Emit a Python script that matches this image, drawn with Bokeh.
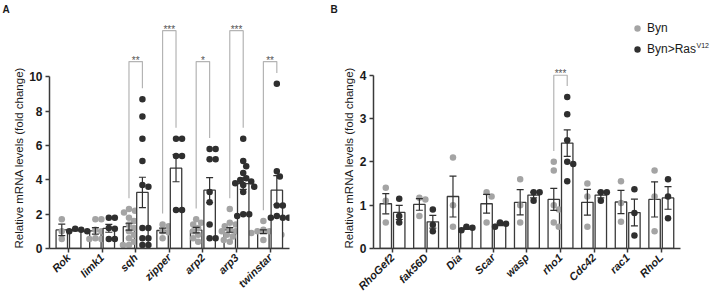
import numpy as np
from bokeh.plotting import figure
from bokeh.layouts import row
from bokeh.models import FixedTicker, Label, Legend, LegendItem, Range1d, Title
from bokeh.core.properties import value
from bokeh.embed import file_html
from bokeh.resources import INLINE

# ---------------- data ----------------
a_categories = ["Rok", "limk1", "sqh", "zipper", "arp2", "arp3", "twinstar"]
a_byn = [
    [1.7, 1.0, 0.55],
    [1.7, 1.7, 1.1, 1.0, 0.6, 0.55, 0.55],
    [2.3, 2.2, 2.1, 2.0, 1.8, 1.6, 1.4, 1.2, 1.0, 0.8, 0.6, 0.4, 0.2, 0.2],
    [1.4, 1.3, 1.0, 0.95, 0.6],
    [1.7, 1.5, 1.4, 1.2, 1.0, 0.8, 0.6, 0.4],
    [2.3, 1.5, 1.4, 1.3, 1.2, 1.1, 1.0, 1.0, 0.9, 0.8, 0.7, 0.5, 0.4],
    [1.6, 1.1, 1.0, 1.0, 0.9, 0.9, 0.8, 0.5],
]
a_ras = [
    [1.15, 1.1, 1.0, 1.0],
    [1.8, 1.8, 1.2, 1.15, 0.55, 0.55],
    [8.7, 7.7, 6.4, 5.1, 3.7, 3.6, 1.2, 1.2, 0.6, 0.6, 0.2, 0.2],
    [6.4, 6.4, 5.4, 5.4, 2.25, 2.25],
    [5.8, 5.8, 5.2, 5.2, 3.3, 2.7, 1.4, 0.6, 0.6],
    [6.4, 5.1, 4.8, 4.4, 4.1, 4.0, 3.9, 3.8, 3.7, 3.6, 3.3, 2.0, 2.0, 1.9],
    [9.6, 4.5, 4.2, 2.5, 2.5, 1.9, 1.8, 1.8, 1.8],
]
a_sig_categories = ["sqh", "zipper", "arp2", "arp3", "twinstar"]
a_sig_labels = ["**", "***", "*", "***", "**"]
a_sig_heights = [10.9, 12.7, 10.9, 12.7, 10.9]
a_yticks = [0, 2, 4, 6, 8, 10]

b_categories = ["RhoGef2", "fak56D", "Dia", "Scar", "wasp", "rho1", "Cdc42", "rac1", "RhoL"]
b_byn = [
    [1.4, 1.1, 0.6],
    [1.17, 1.13, 0.75],
    [2.1, 1.0, 0.5],
    [1.3, 1.2, 0.6],
    [1.6, 1.0, 0.6],
    [2.0, 1.8, 1.0, 0.9, 0.6, 0.5],
    [1.5, 1.2, 0.5],
    [1.55, 1.05, 0.62],
    [1.8, 1.2, 0.4],
]
b_ras = [
    [1.15, 0.75, 0.6],
    [0.9, 0.55, 0.4],
    [0.42, 0.48, 0.5],
    [0.5, 0.57, 0.6],
    [1.3, 1.3, 1.1],
    [3.5, 3.1, 2.5, 2.0, 1.95, 1.55],
    [1.3, 1.3, 1.1],
    [1.37, 0.82, 0.3],
    [1.6, 1.2, 0.7],
]
b_sig_categories = ["rho1"]
b_sig_labels = ["***"]
b_sig_heights = [4.0]
b_yticks = [0, 1, 2, 3, 4]

series_names = ["Byn", "Byn>Ras"]
series_superscript = "V12"
y_title = "Relative mRNA levels (fold change)"

# ---------------- style ----------------
FONT = "Liberation Sans"
GRAY = "#a4a4a4"
DARK = "#2f2f2f"
LINE = "#3a3a3a"
BRACKET = "#b4b4b4"
TXT = "#1a1a1a"
DOT = 6.5
OFF = 0.2
BAR_W = 0.34
CAT_PX = 33.6


def swarm(vals, center, px_x, px_y):
    placed = []
    xs = [0.0] * len(vals)
    order = sorted(range(len(vals)), key=lambda i: -vals[i])
    cands = [0.0]
    for j in range(1, 40):
        cands += [j * 1.0, -j * 1.0]
    for i in order:
        y = vals[i] * px_y
        for c in cands:
            if all((c - px) ** 2 + (y - py) ** 2 >= (DOT * 0.92) ** 2 for px, py in placed):
                break
        placed.append((c, y))
        xs[i] = center + c / px_x
    return xs


def panel(categories, byn, ras, sig_cats, sig_labels, sig_heights, yticks, ppu,
          width, height, bl, br, bt, bb, letter, letter_off, title_standoff, legend=False):
    n = len(categories)
    fw = width - bl - br
    fh = height - bt - bb
    px_x = CAT_PX
    x0 = -19.0 / px_x
    xr = (x0, x0 + fw / px_x)
    px_y = ppu
    y_end = fh / ppu

    p = figure(width=width, height=height, output_backend="svg", toolbar_location=None,
               x_range=Range1d(*xr), y_range=Range1d(0, y_end),
               min_border_left=bl, min_border_right=br, min_border_top=bt, min_border_bottom=bb)
    p.outline_line_color = None
    p.xgrid.visible = False
    p.ygrid.visible = False
    p.background_fill_color = "white"

    renderers = []
    for s, (data, color) in enumerate([(byn, GRAY), (ras, DARK)]):
        dx = -OFF if s == 0 else OFF
        centers = [i + dx for i in range(n)]
        means = [float(np.mean(v)) for v in data]
        sems = [float(np.std(v, ddof=1) / np.sqrt(len(v))) for v in data]
        p.vbar(x=centers, top=means, width=BAR_W, bottom=0, fill_color="white",
               line_color=LINE, line_width=1.3)
        xs, ys = [], []
        for i, v in enumerate(data):
            xs += swarm(v, centers[i], px_x, px_y)
            ys += list(v)
        r = p.scatter(xs, ys, size=DOT, fill_color=color, line_color=None)
        renderers.append(r)
        cap = 3.5 / px_x
        lo = [m - e for m, e in zip(means, sems)]
        hi = [m + e for m, e in zip(means, sems)]
        p.segment(x0=centers, y0=lo, x1=centers, y1=hi, line_color=DARK, line_width=1.2)
        p.segment(x0=[c - cap for c in centers], y0=hi, x1=[c + cap for c in centers], y1=hi,
                  line_color=DARK, line_width=1.2)
        p.segment(x0=[c - cap for c in centers], y0=lo, x1=[c + cap for c in centers], y1=lo,
                  line_color=DARK, line_width=1.2)

    # significance brackets
    gap = 11 / px_y
    bxs, bys, tx, ty = [], [], [], []
    for cat, h in zip(sig_cats, sig_heights):
        i = categories.index(cat)
        l, r_ = i - OFF, i + OFF
        lb = max(byn[i]) + gap
        rb = max(ras[i]) + gap
        bxs.append([l, l, r_, r_])
        bys.append([lb, h, h, rb])
        tx.append(i)
        ty.append(h + 1.5 / px_y)
    p.multi_line(bxs, bys, line_color=BRACKET, line_width=1.2)
    p.text(tx, ty, text=sig_labels, text_align="center", text_baseline="alphabetic",
           text_font=value(FONT), text_font_size="10px", text_color="#555555")

    # axes
    for ax in (p.xaxis[0], p.yaxis[0]):
        ax.axis_line_color = LINE
        ax.axis_line_width = 1.5
        ax.major_tick_line_color = LINE
        ax.major_tick_line_width = 1.5
        ax.major_tick_in = 0
        ax.major_tick_out = 4
        ax.minor_tick_line_color = None
        ax.major_label_text_font = FONT
        ax.major_label_text_color = TXT
    p.xaxis.ticker = FixedTicker(ticks=list(range(n)))
    p.xaxis.major_label_overrides = {i: c for i, c in enumerate(categories)}
    p.xaxis.major_label_orientation = np.pi / 4
    p.xaxis.major_label_text_font_style = "bold italic"
    p.xaxis.major_label_text_font_size = "11px"
    p.xaxis.major_label_standoff = 3
    p.xaxis.bounds = (x0, n - 1 - x0)
    p.yaxis.ticker = FixedTicker(ticks=yticks)
    p.yaxis.bounds = (0, yticks[-1])
    p.yaxis.major_label_text_font_style = "bold"
    p.yaxis.major_label_text_font_size = "12px"
    p.yaxis.major_label_standoff = 3

    p.add_layout(Title(text=y_title, align="left", offset=0, standoff=title_standoff,
                       text_font=FONT, text_font_style="normal", text_font_size="11.5px",
                       text_color=TXT), "left")
    p.add_layout(Title(text=letter, align="left", offset=letter_off, standoff=3,
                       text_font=FONT, text_font_style="bold", text_font_size="10px",
                       text_color=TXT), "above")

    if legend:
        lg = Legend(items=[LegendItem(label=series_names[0], renderers=[renderers[0]]),
                           LegendItem(label=series_names[1], renderers=[renderers[1]])],
                    location=(256, 191), glyph_width=16, glyph_height=16, label_height=16,
                    spacing=5, padding=0, margin=0, border_line_color=None,
                    background_fill_alpha=0, label_text_font=FONT, label_text_font_size="12px",
                    label_standoff=2, label_text_color=TXT)
        p.add_layout(lg)
        p.add_layout(Label(x=323, y=203, x_units="screen", y_units="screen",
                           text=series_superscript, text_font=FONT, text_font_size="7px",
                           text_color=TXT, text_baseline="alphabetic"))
    return p


pa = panel(a_categories, a_byn, a_ras, a_sig_categories, a_sig_labels, a_sig_heights, a_yticks,
           17.3, 328, 299, 49, 39, 16, 49, "A", -47, 3)
pb = panel(b_categories, b_byn, b_ras, b_sig_categories, b_sig_labels, b_sig_heights, b_yticks,
           43.5, 383, 299, 45, 0, 16, 50, "B", -43, 4, legend=True)

layout = row(pa, pb)
open("out.html", "w").write(file_html(layout, INLINE))
